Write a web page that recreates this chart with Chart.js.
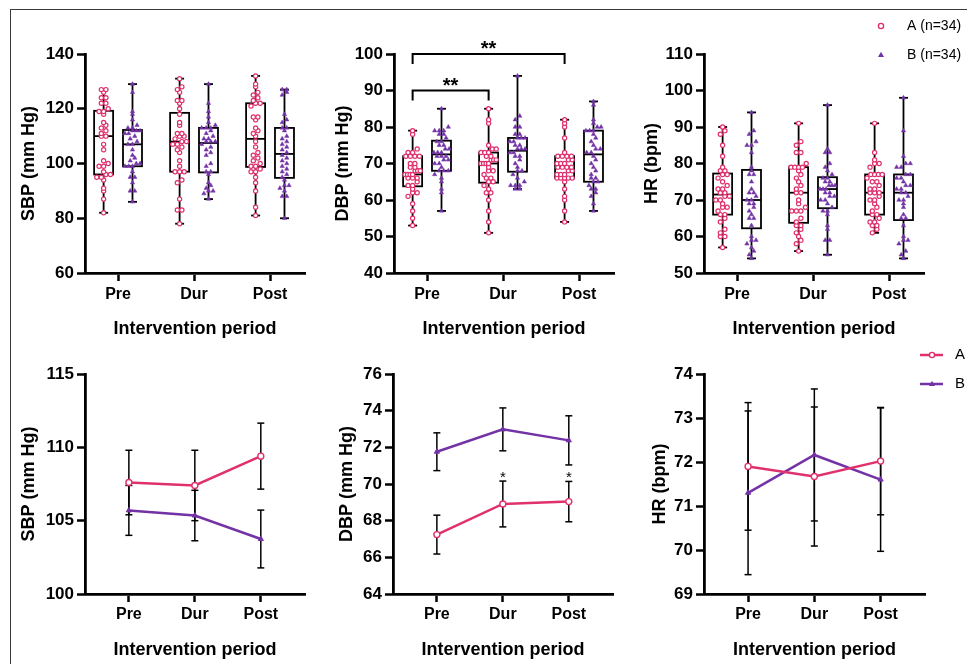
<!DOCTYPE html>
<html>
<head>
<meta charset="utf-8">
<title>SBP, DBP and HR by intervention period</title>
<script src="https://cdn.jsdelivr.net/npm/chart.js@4.4.1/dist/chart.umd.min.js"></script>
<style>
  body { margin: 0; background: #fff; }
  #page { position: relative; width: 967px; height: 664px; overflow: hidden; background: #fff; }
  #frame { position: absolute; left: 10px; top: 9px; width: 990px; height: 700px; border-top: 1px solid #3a3a3a; border-left: 1px solid #3a3a3a; }
  canvas { position: absolute; }
</style>
</head>
<body>
<div id="page">
  <div id="frame"></div>
  <canvas id="sbpBox" width="310" height="336" style="left:10px;top:10px"></canvas>
  <canvas id="dbpBox" width="308" height="336" style="left:322px;top:10px"></canvas>
  <canvas id="hrBox" width="335" height="336" style="left:632px;top:10px"></canvas>
  <canvas id="sbpLine" width="310" height="316" style="left:10px;top:348px"></canvas>
  <canvas id="dbpLine" width="308" height="316" style="left:322px;top:348px"></canvas>
  <canvas id="hrLine" width="335" height="316" style="left:632px;top:348px"></canvas>
</div>
<script>
const periods = ['Pre', 'Dur', 'Post'];

// individual values (n=34 per group)
const sbpA_pre = [82,87,90,91,94,95,95,96,96,97,99,99,100,101,105,107,110,110,111,112,113,114,115,118,119,119,120,122,122,124,124,126,127,127];
const sbpA_dur = [78,83,83,87,93,94,97,97,97,99,101,104,105,106,107,107,108,108,109,110,110,111,111,114,115,118,120,122,123,123,126,127,128,131];
const sbpA_post = [81,84,90,93,95,97,97,98,99,99,100,101,102,103,104,106,108,110,111,112,113,116,117,117,121,122,122,123,124,125,126,128,129,132];
const sbpB_pre = [86,90,90,93,95,95,97,99,99,99,100,100,101,102,103,105,107,107,108,109,110,111,111,112,112,112,113,113,114,116,118,119,126,129];
const sbpB_dur = [87,89,90,90,91,92,93,96,97,97,99,100,103,104,105,106,107,108,108,108,109,109,110,111,112,113,113,113,114,115,117,119,122,129];
const sbpB_post = [80,88,88,90,91,92,92,94,95,96,97,98,99,100,101,102,103,104,105,106,107,108,109,110,112,113,113,115,116,118,125,126,127,127];

const dbpA_pre = [53,55,57,59,61,62,62,63,64,64,65,66,66,66,67,67,67,67,68,68,68,69,69,70,70,72,72,72,72,73,73,74,78,79];
const dbpA_dur = [51,54,57,60,62,62,63,64,65,65,66,66,67,68,68,69,70,70,70,70,71,71,71,72,72,73,73,73,74,74,75,81,82,85];
const dbpA_post = [54,57,60,61,63,65,66,66,66,66,66,67,67,67,68,68,69,69,69,69,70,70,70,71,71,72,72,72,72,73,77,80,81,82];
const dbpB_pre = [57,62,63,65,66,67,68,68,68,69,70,70,71,71,72,72,72,73,73,73,74,74,75,75,76,76,77,78,78,79,79,79,80,85];
const dbpB_dur = [63,63,64,64,64,65,66,67,68,68,69,70,71,72,72,73,73,74,74,74,75,75,76,76,77,77,77,78,78,80,80,82,83,94];
const dbpB_post = [57,59,61,62,63,63,64,65,65,66,66,67,68,69,70,71,72,73,73,74,74,75,76,77,78,79,79,79,80,80,81,82,86,87];

const hrA_pre = [57,60,60,61,62,64,65,66,66,67,68,68,69,70,70,71,71,72,72,73,73,74,75,76,77,77,78,78,79,82,85,88,89,90];
const hrA_dur = [56,58,59,60,61,62,63,63,64,65,67,67,67,68,69,70,72,72,73,74,75,76,77,78,79,79,79,79,80,83,83,85,86,91];
const hrA_post = [61,62,63,63,64,64,65,66,66,67,68,69,70,70,71,72,72,72,73,73,74,75,75,76,77,77,77,77,79,80,80,81,83,91];
const hrB_pre = [54,55,56,57,58,59,59,60,63,65,65,66,67,68,69,69,70,70,71,72,72,73,75,77,77,78,79,83,85,85,86,88,89,94];
const hrB_dur = [55,59,59,62,63,66,67,67,68,69,70,70,71,71,72,72,73,73,73,74,74,74,75,75,76,76,77,78,79,80,83,83,84,96];
const hrB_post = [54,55,56,58,59,59,60,63,65,65,66,68,69,70,70,71,72,72,73,73,74,74,75,76,76,77,77,79,79,80,80,82,89,98];

// means and error bars for the line plots
const sbpMeanA = [107.6, 107.4, 109.4];
const sbpErrA = [2.2, 2.4, 2.25];
const sbpMeanB = [105.7, 105.35, 103.75];
const sbpErrB = [1.7, 1.72, 1.97];

const dbpMeanA = [67.24, 68.91, 69.04];
const dbpErrA = [1.06, 1.25, 1.1];
const dbpMeanB = [71.76, 72.98, 72.38];
const dbpErrB = [1.03, 1.17, 1.34];
const dbpStarsA = ['', '*', '*'];

const hrMeanA = [71.9, 71.67, 72.02];
const hrErrA = [1.45, 1.58, 1.22];
const hrMeanB = [71.3, 72.16, 71.6];
const hrErrB = [1.86, 1.5, 1.63];

// significance brackets on the DBP box plot (group A)
const dbpSigFrom = [0, 0];
const dbpSigTo = [2, 1];
const dbpSigLevel = [100, 90];
const dbpSigLabel = ['**', '**'];

const PINK = '#e0306e';
const PURPLE = '#7332a6';
const FONT = "'Liberation Sans', Arial, sans-serif";
const OFF = 0.19;   // box offset from the period tick
const BOX_W = 0.25;
const JIT = 0.06;
const MAX_SPREAD = 0.2;

function quant(s, p) {
    // (n+1)p percentile, like Prism
    const pos = (s.length + 1) * p;
    const lo = Math.floor(pos);
    if (lo < 1) return s[0];
    if (lo >= s.length) return s[s.length - 1];
    return s[lo - 1] + (pos - lo) * (s[lo] - s[lo - 1]);
}

function swarm(groups, offset, bin) {
    const pts = [];
    groups.forEach((vals, pi) => {
        const bins = {};
        vals.forEach(v => {
            const k = Math.round(v / bin);
            (bins[k] = bins[k] || []).push(v);
        });
        Object.values(bins).forEach(list => {
            const n = list.length;
            const step = n > 1 ? Math.min(JIT, MAX_SPREAD / (n - 1)) : 0;
            list.forEach((v, j) => {
                pts.push({ x: pi + offset + (j - (n - 1) / 2) * step, y: v });
            });
        });
    });
    return pts;
}

function line(ctx, x1, y1, x2, y2) {
    ctx.beginPath();
    ctx.moveTo(x1, y1);
    ctx.lineTo(x2, y2);
    ctx.stroke();
}

function makeScales(o) {
    return {
        x: {
            type: 'linear', min: o.xMin, max: o.xMax,
            afterBuildTicks: s => { s.ticks = periods.map((p, i) => ({ value: i })); },
            afterFit: s => { s.height = o.xHeight; },
            ticks: { color: '#000', font: { family: FONT, size: 16, weight: 'bold' }, padding: o.xTickPad,
                maxRotation: 0, autoSkip: false, callback: v => periods[v] },
            grid: { drawOnChartArea: false, tickLength: 8, tickWidth: 2.5, tickColor: '#000' },
            border: { color: '#000', width: 2.8 },
            title: { display: true, text: 'Intervention period', color: '#000',
                font: { family: FONT, size: 18, weight: 'bold' }, padding: { top: 0, bottom: o.xTitlePad } }
        },
        y: {
            min: o.yMin, max: o.yMax,
            afterFit: s => { s.width = o.yWidth; },
            ticks: { stepSize: o.step, color: '#000', font: { family: FONT, size: 17, weight: 'bold' }, padding: 3 },
            grid: { drawOnChartArea: false, tickLength: 8, tickWidth: 2.5, tickColor: '#000' },
            border: { color: '#000', width: 2.8 },
            title: { display: true, text: o.yTitle, color: '#000',
                font: { family: FONT, size: 18, weight: 'bold' }, padding: { top: o.yTitlePad, bottom: 0 } }
        }
    };
}

const boxPlugin = (groups) => ({
    id: 'boxes',
    beforeDatasetsDraw(chart) {
        const { ctx, scales: { x, y } } = chart;
        ctx.save();
        ctx.strokeStyle = '#000';
        ctx.lineWidth = 1.8;
        groups.forEach((g, gi) => g.forEach((vals, pi) => {
            const s = [...vals].sort((a, b) => a - b);
            const c = pi + (gi === 0 ? -OFF : OFF);
            const cx = x.getPixelForValue(c);
            const hw = x.getPixelForValue(c + BOX_W / 2) - cx;
            const q1 = y.getPixelForValue(quant(s, 0.25));
            const md = y.getPixelForValue(quant(s, 0.5));
            const q3 = y.getPixelForValue(quant(s, 0.75));
            const lo = y.getPixelForValue(s[0]);
            const hi = y.getPixelForValue(s[s.length - 1]);
            ctx.strokeRect(cx - hw, q3, 2 * hw, q1 - q3);
            line(ctx, cx - hw, md, cx + hw, md);
            line(ctx, cx, q3, cx, hi);
            line(ctx, cx, q1, cx, lo);
            line(ctx, cx - 4.5, hi, cx + 4.5, hi);
            line(ctx, cx - 4.5, lo, cx + 4.5, lo);
        }));
        ctx.restore();
    }
});

const errPlugin = (means, errs, starsA) => ({
    id: 'errbars',
    beforeDatasetsDraw(chart) {
        const { ctx, scales: { x, y } } = chart;
        ctx.save();
        ctx.strokeStyle = '#000';
        ctx.lineWidth = 1.5;
        means.forEach((m, gi) => m.forEach((v, i) => {
            const px = x.getPixelForValue(i);
            const top = y.getPixelForValue(v + errs[gi][i]);
            const bot = y.getPixelForValue(v - errs[gi][i]);
            line(ctx, px, top, px, bot);
            line(ctx, px - 3.5, top, px + 3.5, top);
            line(ctx, px - 3.5, bot, px + 3.5, bot);
        }));
        ctx.restore();
    },
    afterDatasetsDraw(chart) {
        if (!starsA) return;
        const { ctx, scales: { x, y } } = chart;
        ctx.save();
        ctx.fillStyle = '#000';
        ctx.font = '15px ' + FONT;
        ctx.textAlign = 'center';
        ctx.textBaseline = 'alphabetic';
        starsA.forEach((t, i) => {
            if (!t) return;
            const top = y.getPixelForValue(means[0][i] + errs[0][i]);
            ctx.fillText(t, x.getPixelForValue(i), top + 1);
        });
        ctx.restore();
    }
});

const sigPlugin = {
    id: 'sig',
    afterDraw(chart) {
        const { ctx, scales: { x, y } } = chart;
        ctx.save();
        ctx.strokeStyle = '#000';
        ctx.fillStyle = '#000';
        ctx.lineWidth = 2;
        ctx.font = 'bold 20px ' + FONT;
        ctx.textAlign = 'center';
        ctx.textBaseline = 'alphabetic';
        dbpSigFrom.forEach((f, k) => {
            const x1 = x.getPixelForValue(f - OFF);
            const x2 = x.getPixelForValue(dbpSigTo[k] - OFF);
            const yy = y.getPixelForValue(dbpSigLevel[k]);
            ctx.beginPath();
            ctx.moveTo(x1, yy + 10);
            ctx.lineTo(x1, yy);
            ctx.lineTo(x2, yy);
            ctx.lineTo(x2, yy + 10);
            ctx.stroke();
            ctx.fillText(dbpSigLabel[k], (x1 + x2) / 2, yy + 1);
        });
        ctx.restore();
    }
};

function marker(ctx, style, cx, cy) {
    ctx.beginPath();
    if (style === 'circle') {
        ctx.arc(cx, cy, 2.6, 0, Math.PI * 2);
        ctx.fillStyle = '#fff';
        ctx.fill();
        ctx.strokeStyle = PINK;
        ctx.lineWidth = 1.4;
        ctx.stroke();
    } else {
        ctx.moveTo(cx, cy - 3.2);
        ctx.lineTo(cx + 3, cy + 2);
        ctx.lineTo(cx - 3, cy + 2);
        ctx.closePath();
        ctx.fillStyle = PURPLE;
        ctx.fill();
    }
}

const topLegend = {
    id: 'topLegend',
    afterDraw(chart) {
        const ctx = chart.ctx;
        ctx.save();
        ctx.font = '14px ' + FONT;
        ctx.textBaseline = 'middle';
        marker(ctx, 'circle', 249, 16);
        marker(ctx, 'triangle', 249, 45);
        ctx.fillStyle = '#000';
        ctx.fillText('A (n=34)', 275, 16);
        ctx.fillText('B (n=34)', 275, 45);
        ctx.restore();
    }
};

const lineLegend = {
    id: 'lineLegend',
    afterDraw(chart) {
        const ctx = chart.ctx;
        ctx.save();
        [[PINK, 'circle', 'A', 7], [PURPLE, 'triangle', 'B', 36]].forEach(([col, st, txt, yy]) => {
            ctx.strokeStyle = col;
            ctx.lineWidth = 2.5;
            line(ctx, 288, yy, 311, yy);
            marker(ctx, st, 300, yy);
            ctx.fillStyle = '#000';
            ctx.font = '15px ' + FONT;
            ctx.textBaseline = 'middle';
            ctx.fillText(txt, 323, yy);
        });
        ctx.restore();
    }
};

function boxChart(id, groupsA, groupsB, bin, o, extra) {
    return new Chart(document.getElementById(id), {
        type: 'scatter',
        data: {
            datasets: [
                { label: 'A', data: swarm(groupsA, -OFF, bin), pointStyle: 'circle', pointRadius: 2.1,
                    pointBorderColor: PINK, pointBackgroundColor: '#fff', pointBorderWidth: 1.2 },
                { label: 'B', data: swarm(groupsB, OFF, bin), pointStyle: 'triangle', pointRadius: 2.5,
                    pointBorderColor: PURPLE, pointBackgroundColor: PURPLE, pointBorderWidth: 0.5 }
            ]
        },
        options: {
            responsive: false, animation: false, devicePixelRatio: 1,
            layout: { padding: { left: 0, top: 44, right: o.padRight, bottom: 0 } },
            plugins: { legend: { display: false }, tooltip: { enabled: false } },
            scales: makeScales(Object.assign({ xMin: -0.435, xMax: 2.46, xHeight: 73, xTickPad: 4, xTitlePad: 6 }, o))
        },
        plugins: [boxPlugin([groupsA, groupsB])].concat(extra || [])
    });
}

function meanChart(id, mA, eA, mB, eB, stars, o, extra) {
    return new Chart(document.getElementById(id), {
        type: 'scatter',
        data: {
            datasets: [
                { label: 'A', data: mA.map((v, i) => ({ x: i, y: v })), showLine: true,
                    borderColor: PINK, borderWidth: 2.5, pointStyle: 'circle', pointRadius: 3,
                    pointBorderColor: PINK, pointBackgroundColor: '#fff', pointBorderWidth: 1.4 },
                { label: 'B', data: mB.map((v, i) => ({ x: i, y: v })), showLine: true,
                    borderColor: PURPLE, borderWidth: 2.5, pointStyle: 'triangle', pointRadius: 3,
                    pointBorderColor: PURPLE, pointBackgroundColor: PURPLE, pointBorderWidth: 1 }
            ]
        },
        options: {
            responsive: false, animation: false, devicePixelRatio: 1,
            layout: { padding: { left: 0, top: 26, right: o.padRight, bottom: 0 } },
            plugins: { legend: { display: false }, tooltip: { enabled: false } },
            scales: makeScales(Object.assign({ xMin: -0.665, xMax: 2.67, xHeight: 70, xTickPad: 3, xTitlePad: 3 }, o))
        },
        plugins: [errPlugin([mA, mB], [eA, eB], stars)].concat(extra || [])
    });
}

// top row: box plots with individual points
boxChart('sbpBox', [sbpA_pre, sbpA_dur, sbpA_post], [sbpB_pre, sbpB_dur, sbpB_post], 2,
    { yMin: 60, yMax: 140, step: 20, yTitle: 'SBP (mm Hg)', yWidth: 75, yTitlePad: 8, padRight: 15 });
boxChart('dbpBox', [dbpA_pre, dbpA_dur, dbpA_post], [dbpB_pre, dbpB_dur, dbpB_post], 1.5,
    { yMin: 40, yMax: 100, step: 10, yTitle: 'DBP (mm Hg)', yWidth: 72, yTitlePad: 10, padRight: 16 }, [sigPlugin]);
boxChart('hrBox', [hrA_pre, hrA_dur, hrA_post], [hrB_pre, hrB_dur, hrB_post], 1.5,
    { yMin: 50, yMax: 110, step: 10, yTitle: 'HR (bpm)', yWidth: 72, yTitlePad: 9, padRight: 43 }, [topLegend]);

// bottom row: mean with error bars
meanChart('sbpLine', sbpMeanA, sbpErrA, sbpMeanB, sbpErrB, null,
    { yMin: 100, yMax: 115, step: 5, yTitle: 'SBP (mm Hg)', yWidth: 75, yTitlePad: 8, padRight: 15 });
meanChart('dbpLine', dbpMeanA, dbpErrA, dbpMeanB, dbpErrB, dbpStarsA,
    { yMin: 64, yMax: 76, step: 2, yTitle: 'DBP (mm Hg)', yWidth: 71, yTitlePad: 14, padRight: 17 });
meanChart('hrLine', hrMeanA, hrErrA, hrMeanB, hrErrB, null,
    { yMin: 69, yMax: 74, step: 1, yTitle: 'HR (bpm)', yWidth: 72, yTitlePad: 17, padRight: 42 }, [lineLegend]);
</script>
</body>
</html>
